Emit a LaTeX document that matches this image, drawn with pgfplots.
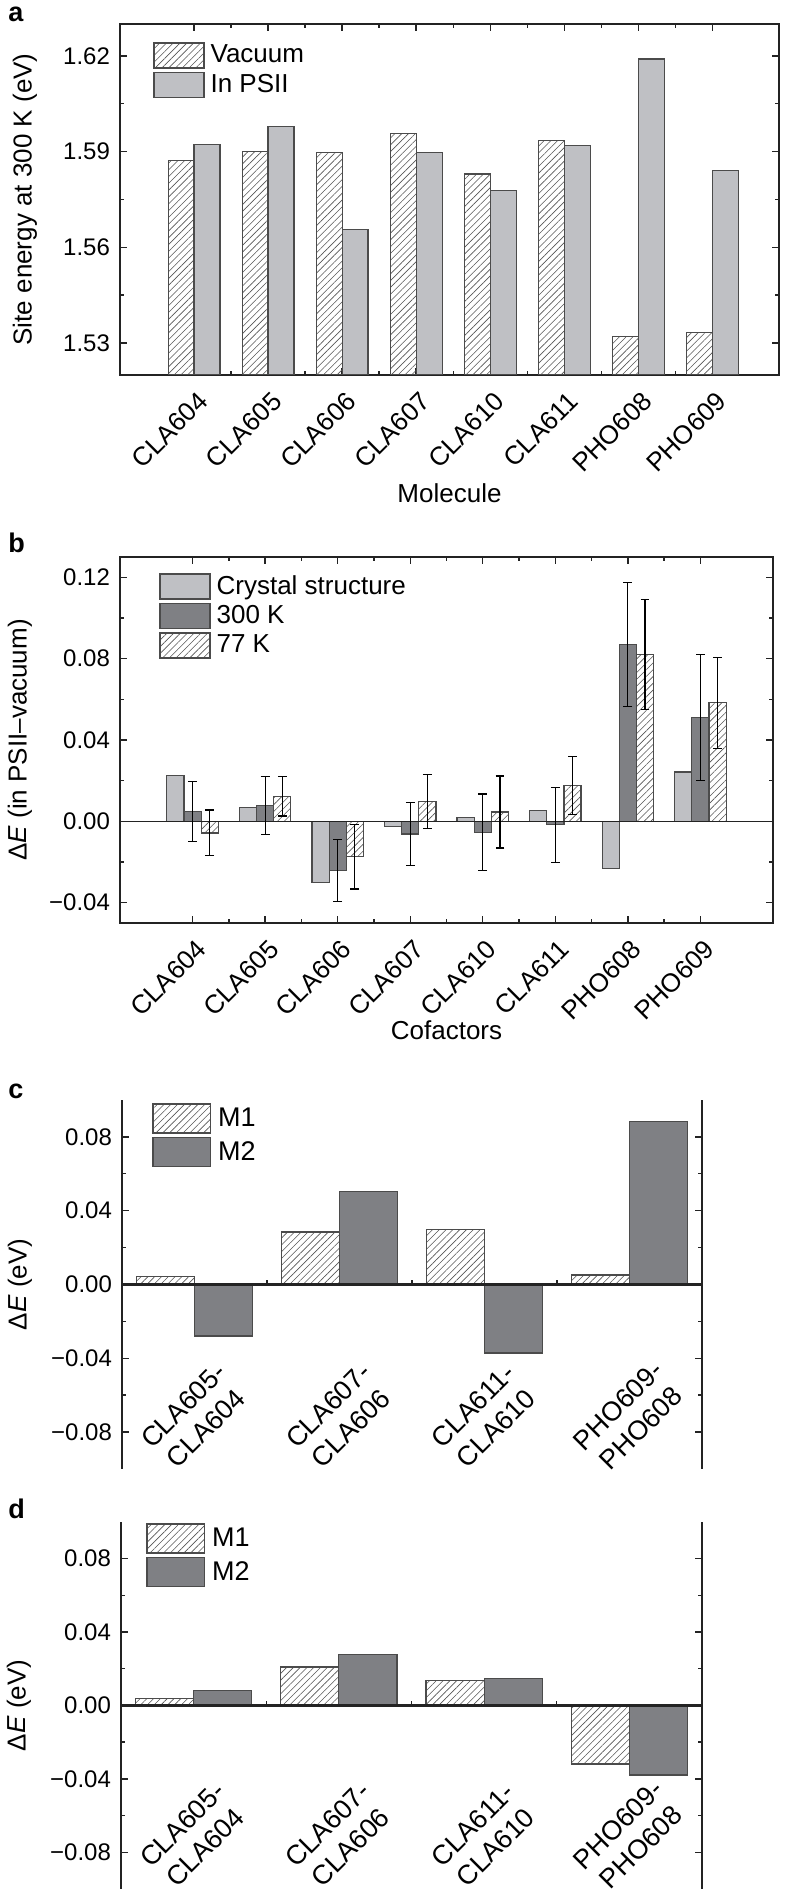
\documentclass[border=0pt]{standalone}
\usepackage{fontspec}
\setmainfont{Liberation Sans}
\usepackage{pgfplots}
\usepackage{pgfplotstable}
\pgfplotsset{compat=1.18}
\usetikzlibrary{patterns.meta}

\definecolor{lightbar}{RGB}{191,192,196}
\definecolor{darkbar}{RGB}{127,128,132}
\definecolor{edgec}{RGB}{75,75,75}
\definecolor{hatchc}{RGB}{85,85,85}
\definecolor{axisc}{RGB}{35,35,35}

\pgfplotstableread{
x  vac     psii
1  1.5873  1.5923
2  1.5901  1.5979
3  1.5897  1.5655
4  1.5957  1.5897
5  1.5830  1.5777
6  1.5935  1.5918
7  1.5321  1.6190
8  1.5332  1.5841
}\tabA

\pgfplotstableread{
x  crys     t300     e300    t77      e77
1  0.0226   0.0049   0.0148  -0.0057  0.0113
2  0.0068   0.0079   0.0142   0.0123  0.0097
3  -0.0301  -0.0243  0.0152  -0.0174  0.0159
4  -0.0025  -0.0062  0.0156   0.0096  0.0133
5  0.0019   -0.0054  0.0188   0.0046  0.0177
6  0.0054   -0.0017  0.0184   0.0177  0.0142
7  -0.0232  0.0870   0.0304   0.0820  0.0270
8  0.0243   0.0512   0.0310   0.0583  0.0223
}\tabB

\pgfplotstableread{
x  mone    mtwo
1  0.0045  -0.0279
2  0.0284   0.0503
3  0.0300  -0.0371
4  0.0051   0.0883
}\tabC

\pgfplotstableread{
x  mone    mtwo
1  0.0036   0.0080
2  0.0210   0.0279
3  0.0138   0.0149
4  -0.0319  -0.0379
}\tabD

\tikzset{hatchfill/.style={pattern={Lines[angle=45,distance=2.4pt,line width=0.3pt]}, pattern color=hatchc}}

\pgfplotsset{
  panel/.style={
    scale only axis,
    axis line style={line width=0.8pt, axisc},
    tick style={line width=0.7pt, axisc},
    major tick length=3.5pt,
    minor tick length=2pt,
    tick align=inside,
    yticklabel style={font=\fontsize{12}{14}\selectfont, xshift=-1.5pt},
    xticklabel style={font=\fontsize{13}{15}\selectfont},
    legend cell align=left,
    every axis x label/.style={at={(rel axis cs:0.5,0)}, anchor=center, font=\fontsize{13}{15}\selectfont},
  },
  ylab/.style={every axis y label/.style={at={(rel axis cs:0,0.5)}, xshift=#1, rotate=90, anchor=center, font=\fontsize{13}{15}\selectfont}},
  legA/.style={legend image code/.code={\draw[##1] (0pt,-6.25pt) rectangle (25pt,6.25pt);}},
  legC/.style={legend image code/.code={\draw[##1] (0pt,-7.25pt) rectangle (28.8pt,7.25pt);}},
  barA/.style={ybar, bar width=#1, draw=edgec, line width=0.6pt},
  ebars/.style={only marks, mark=*, mark size=0.1pt, mark options={opacity=0}, forget plot,
    error bars/.cd, y dir=both, y explicit,
    error bar style={black, line width=0.6pt, opacity=1},
    error mark options={rotate=90, mark size=2.2pt, black, line width=0.6pt, opacity=1}},
  pairlab/.style={xticklabel style={font=\fontsize{13.5}{16}\selectfont, align=center, anchor=center, yshift=#1, rotate=45}},
}

\begin{document}
\begin{tikzpicture}
\useasboundingbox (0,0) rectangle (394pt,946.5pt);

% panel letters
\node[anchor=base west, inner sep=0pt, font=\fontsize{13.5}{15}\selectfont\bfseries] at (4pt,935.5pt) {a};
\node[anchor=base west, inner sep=0pt, font=\fontsize{13.5}{15}\selectfont\bfseries] at (4pt,670pt) {b};
\node[anchor=base west, inner sep=0pt, font=\fontsize{13.5}{15}\selectfont\bfseries] at (4pt,397pt) {c};
\node[anchor=base west, inner sep=0pt, font=\fontsize{13.5}{15}\selectfont\bfseries] at (4pt,187pt) {d};

% ---------------- panel a
\begin{axis}[panel, ylab=-47.5pt,
  at={(60pt,934.5pt)}, anchor=north west,
  width=329.5pt, height=175.5pt,
  xmin=0, xmax=8.9, ymin=1.52, ymax=1.63,
  xtick={1,...,8},
  xticklabels={CLA604,CLA605,CLA606,CLA607,CLA610,CLA611,PHO608,PHO609},
  minor x tick num=1,
  ytick={1.53,1.56,1.59,1.62},
  yticklabels={1.53,1.56,1.59,1.62},
  minor y tick num=1,
  xticklabel style={xshift=7pt, yshift=-8.5pt, rotate=45, anchor=east},
  xlabel={Molecule},
  ylabel={Site energy at 300 K (eV)},
  xlabel style={yshift=-59pt},
  legend style={draw=none, fill=none, at={(rel axis cs:0,1)}, anchor=north west,
    xshift=16.5pt, yshift=-9pt, inner sep=0pt, row sep=1.5pt, column sep=3pt,
    nodes={inner sep=0pt, font=\fontsize{13}{15}\selectfont}},
]
\addplot[barA=0.35, bar shift=-0.175, hatchfill, legA] table[x=x, y=vac] {\tabA};
\addlegendentry{Vacuum}
\addplot[barA=0.35, bar shift=0.175, fill=lightbar, legA] table[x=x, y=psii] {\tabA};
\addlegendentry{In PSII}
\end{axis}

% ---------------- panel b
\begin{axis}[panel, ylab=-50pt,
  at={(60pt,668pt)}, anchor=north west,
  width=326.5pt, height=183pt,
  xmin=0, xmax=9, ymin=-0.05, ymax=0.13,
  xtick={1,...,8},
  xticklabels={CLA604,CLA605,CLA606,CLA607,CLA610,CLA611,PHO608,PHO609},
  minor x tick num=1,
  ytick={-0.04,0,0.04,0.08,0.12},
  yticklabels={−0.04,0.00,0.04,0.08,0.12},
  minor y tick num=1,
  xticklabel style={xshift=7pt, yshift=-8.5pt, rotate=45, anchor=east},
  xlabel={Cofactors},
  ylabel={Δ\textit{E} (in PSII–vacuum)},
  xlabel style={yshift=-53.5pt},
  legend style={draw=none, fill=none, at={(rel axis cs:0,1)}, anchor=north west,
    xshift=19.5pt, yshift=-8pt, inner sep=0pt, row sep=1.65pt, column sep=3pt,
    nodes={inner sep=0pt, font=\fontsize{13}{15}\selectfont}},
]
\addplot[barA=0.236, bar shift=-0.236, fill=lightbar, legA] table[x=x, y=crys] {\tabB};
\addlegendentry{Crystal structure}
\addplot[barA=0.236, bar shift=0, fill=darkbar, legA] table[x=x, y=t300] {\tabB};
\addlegendentry{300 K}
\addplot[barA=0.236, bar shift=0.236, hatchfill, legA] table[x=x, y=t77] {\tabB};
\addlegendentry{77 K}
\addplot[axisc, line width=0.8pt, forget plot] coordinates {(0,0) (9,0)};
\addplot[ebars] table[x=x, y=t300, y error=e300] {\tabB};
\addplot[ebars] table[x expr=\thisrow{x}+0.236, y=t77, y error=e77] {\tabB};
\end{axis}

% ---------------- panel c
\begin{axis}[panel, ylab=-51pt, pairlab=26pt,
  at={(61pt,396.5pt)}, anchor=north west,
  width=290pt, height=184.5pt,
  xmin=0.5, xmax=4.5, ymin=-0.1, ymax=0.1,
  separate axis lines, x axis line style={draw=none},
  xtick={1,2,3,4},
  xticklabels={{CLA605-\\CLA604},{CLA607-\\CLA606},{CLA611-\\CLA610},{PHO609-\\PHO608}},
  major x tick style={draw=none},
  ytick={-0.08,-0.04,0,0.04,0.08},
  yticklabels={−0.08,−0.04,0.00,0.04,0.08},
  minor y tick num=1,
  ylabel={Δ\textit{E} (eV)},
  legend style={draw=none, fill=none, at={(rel axis cs:0,1)}, anchor=north west,
    xshift=15pt, yshift=-1.5pt, inner sep=0pt, row sep=1.75pt, column sep=3.5pt,
    nodes={inner sep=0pt, font=\fontsize{13.5}{15}\selectfont}},
]
\addplot[barA=0.4, bar shift=-0.2, hatchfill, legC] table[x=x, y=mone] {\tabC};
\addlegendentry{M1}
\addplot[barA=0.4, bar shift=0.2, fill=darkbar, legC] table[x=x, y=mtwo] {\tabC};
\addlegendentry{M2}
\addplot[axisc, line width=1.1pt, forget plot] coordinates {(0.5,0) (4.5,0)};
\addplot[ycomb, axisc, line width=0.7pt, mark=none, forget plot] coordinates {(1.5,0.0025) (2.5,0.0025) (3.5,0.0025)};
\end{axis}

% ---------------- panel d
\begin{axis}[panel, ylab=-51pt, pairlab=26.5pt,
  at={(60.5pt,185.5pt)}, anchor=north west,
  width=290.5pt, height=183.5pt,
  xmin=0.5, xmax=4.5, ymin=-0.1, ymax=0.1,
  separate axis lines, x axis line style={draw=none},
  xtick={1,2,3,4},
  xticklabels={{CLA605-\\CLA604},{CLA607-\\CLA606},{CLA611-\\CLA610},{PHO609-\\PHO608}},
  major x tick style={draw=none},
  ytick={-0.08,-0.04,0,0.04,0.08},
  yticklabels={−0.08,−0.04,0.00,0.04,0.08},
  minor y tick num=1,
  ylabel={Δ\textit{E} (eV)},
  legend style={draw=none, fill=none, at={(rel axis cs:0,1)}, anchor=north west,
    xshift=12.5pt, yshift=-0.5pt, inner sep=0pt, row sep=1.75pt, column sep=3.5pt,
    nodes={inner sep=0pt, font=\fontsize{13.5}{15}\selectfont}},
]
\addplot[barA=0.4, bar shift=-0.2, hatchfill, legC] table[x=x, y=mone] {\tabD};
\addlegendentry{M1}
\addplot[barA=0.4, bar shift=0.2, fill=darkbar, legC] table[x=x, y=mtwo] {\tabD};
\addlegendentry{M2}
\addplot[axisc, line width=1.1pt, forget plot] coordinates {(0.5,0) (4.5,0)};
\addplot[ycomb, axisc, line width=0.7pt, mark=none, forget plot] coordinates {(1.5,0.0025) (2.5,0.0025) (3.5,0.0025)};
\end{axis}
\end{tikzpicture}
\end{document}
